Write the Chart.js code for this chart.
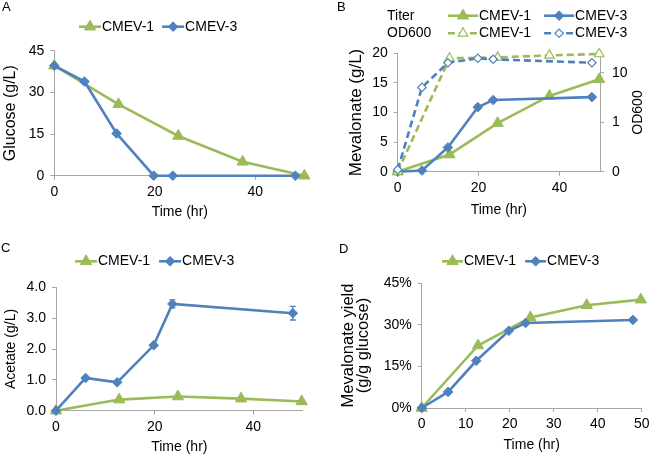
<!DOCTYPE html>
<html>
<head>
<meta charset="utf-8">
<script src="https://cdn.jsdelivr.net/npm/chart.js@4/dist/chart.umd.min.js"></script>
<style>
  html, body { margin: 0; padding: 0; background: #fff; }
  #wrap { position: relative; width: 650px; height: 457px; background: #fff; }
  .panel { position: absolute; width: 325px; height: 228px; }
</style>
</head>
<body>
<div id="wrap">
  <div class="panel" style="left:0;top:0"><canvas id="cA"></canvas></div>
  <div class="panel" style="left:325px;top:0"><canvas id="cB"></canvas></div>
  <div class="panel" style="left:0;top:228px"><canvas id="cC"></canvas></div>
  <div class="panel" style="left:325px;top:228px"><canvas id="cD"></canvas></div>
</div>
<script>
// ---------------- data ----------------
const strains = ['CMEV-1', 'CMEV-3'];
const timeCMEV1 = [0, 12.8, 24.7, 37.5, 49.8];
const timeCMEV3 = [0, 6, 12.4, 19.8, 23.6, 48];

const glucoseCMEV1 = [39.6, 25.7, 14.3, 5.0, 0];
const glucoseCMEV3 = [39.6, 33.9, 15.2, 0, 0, 0];

const mevalonateCMEV1 = [0, 2.9, 8.2, 12.8, 15.6];
const mevalonateCMEV3 = [0, 0.2, 4.1, 10.9, 12.1, 12.6];
const od600CMEV1 = [0.1, 19.8, 20.7, 22.7, 24.2];
const od600CMEV3 = [0.11, 5.1, 16.1, 19.8, 18.9, 16.1];

const acetateCMEV1 = [0, 0.36, 0.46, 0.39, 0.30];
const acetateCMEV3 = [0, 1.06, 0.92, 2.12, 3.46, 3.16];
const acetateCMEV3Err = [0, 0, 0, 0, 0.13, 0.22];

const yieldCMEV1 = [0, 22.5, 32.6, 37.0, 39.0];
const yieldCMEV3 = [0, 5.8, 17.0, 27.8, 30.6, 31.7];

const odTickValues = [0.1, 1, 10];
const odTickLabels = ['0', '1', '10'];

// ---------------- styling ----------------
const GREEN = '#9BBB59';
const BLUE = '#4F81BD';
const AXIS = '#A6A6A6';
const FONT = '"Liberation Sans", Arial, Helvetica, sans-serif';
Chart.defaults.font.family = FONT;
Chart.defaults.font.size = 14;
Chart.defaults.color = '#000';
Chart.defaults.animation = false;

function pts(xs, ys) { return xs.map((x, i) => ({ x: x, y: ys[i] })); }

function solid(label, xs, ys, color, style, order) {
  return {
    label: label, data: pts(xs, ys), borderColor: color, backgroundColor: color,
    borderWidth: 2.6, pointStyle: style, pointRadius: style === 'triangle' ? 6.5 : 4.8,
    pointBackgroundColor: color, pointBorderColor: color, pointBorderWidth: 1,
    tension: 0, clip: false, order: order, fill: false
  };
}
function dashed(label, xs, ys, color, style, order, axis) {
  return {
    label: label, data: pts(xs, ys), borderColor: color, backgroundColor: '#fff',
    borderWidth: 2.6, borderDash: [7, 4], pointStyle: style,
    pointRadius: style === 'triangle' ? 5.5 : 4.2,
    pointBackgroundColor: '#fff', pointBorderColor: color, pointBorderWidth: 1.2,
    tension: 0, clip: false, order: order, fill: false, yAxisID: axis
  };
}

function drawMarker(ctx, style, x, y, r) {
  ctx.beginPath();
  if (style === 'triangle') {
    for (let k = 0; k < 3; k++) {
      const a = k * 2 * Math.PI / 3;
      const px = x + Math.sin(a) * r, py = y - Math.cos(a) * r;
      if (k === 0) ctx.moveTo(px, py); else ctx.lineTo(px, py);
    }
  } else {
    ctx.moveTo(x, y - r); ctx.lineTo(x + r, y); ctx.lineTo(x, y + r); ctx.lineTo(x - r, y);
  }
  ctx.closePath();
  ctx.fill();
  ctx.stroke();
}

const decoPlugin = {
  id: 'deco',
  afterDraw(chart, args, o) {
    const ctx = chart.ctx;
    ctx.save();
    ctx.fillStyle = '#000';
    ctx.textAlign = 'left';
    ctx.textBaseline = 'middle';
    if (o.letter) {
      ctx.font = '13px ' + FONT;
      ctx.fillText(o.letter.text, o.letter.x, o.letter.y);
    }
    ctx.font = '14px ' + FONT;
    (o.rows || []).forEach(row => {
      let x = row.x;
      if (row.prefix) { ctx.fillStyle = '#000'; ctx.fillText(row.prefix, row.prefixX, row.y); }
      row.datasets.forEach(di => {
        const ds = chart.data.datasets[di];
        ctx.save();
        ctx.strokeStyle = ds.borderColor;
        ctx.lineWidth = ds.borderWidth;
        ctx.setLineDash(ds.borderDash || []);
        ctx.beginPath(); ctx.moveTo(x, row.y); ctx.lineTo(x + o.swatch, row.y); ctx.stroke();
        ctx.setLineDash([]);
        ctx.fillStyle = ds.pointBackgroundColor;
        ctx.strokeStyle = ds.pointBorderColor;
        ctx.lineWidth = ds.pointBorderWidth;
        drawMarker(ctx, ds.pointStyle, x + o.swatch / 2, row.y, ds.pointRadius);
        ctx.restore();
        ctx.fillStyle = '#000';
        ctx.fillText(ds.label, x + o.swatch + o.textGap, row.y);
        x += o.swatch + o.textGap + ctx.measureText(ds.label).width + o.itemGap;
      });
    });
    if (o.rightTitle) {
      const ca = chart.chartArea;
      ctx.save();
      ctx.translate(o.rightTitle.x, (ca.top + ca.bottom) / 2);
      ctx.rotate(-Math.PI / 2);
      ctx.textAlign = 'center';
      ctx.fillStyle = '#000';
      ctx.font = '14px ' + FONT;
      ctx.fillText(o.rightTitle.text, 0, 0);
      ctx.restore();
    }
    ctx.restore();
  },
  beforeDatasetsDraw(chart, args, o) {
    if (!o.errors) return;
    const ctx = chart.ctx;
    const xs = chart.scales.x, ys = chart.scales.y;
    o.errors.forEach(eb => {
      const ds = chart.data.datasets[eb.dataset];
      ctx.save();
      ctx.strokeStyle = ds.borderColor;
      ctx.lineWidth = 1.3;
      ds.data.forEach((p, i) => {
        const e = eb.values[i];
        if (!e) return;
        const px = xs.getPixelForValue(p.x);
        const y1 = ys.getPixelForValue(p.y + e), y2 = ys.getPixelForValue(p.y - e);
        ctx.beginPath();
        ctx.moveTo(px, y1); ctx.lineTo(px, y2);
        ctx.moveTo(px - 3, y1); ctx.lineTo(px + 3, y1);
        ctx.moveTo(px - 3, y2); ctx.lineTo(px + 3, y2);
        ctx.stroke();
      });
      ctx.restore();
    });
  }
};

function fixW(w) { return s => { s.width = w; s.paddingTop = 0; s.paddingBottom = 0; s.paddingLeft = 0; s.paddingRight = 0; }; }
function fixH(h) { return s => { s.height = h; s.paddingLeft = 0; s.paddingRight = 0; s.paddingTop = 0; s.paddingBottom = 0; }; }

function xAxis(max, step, h, keepEvery) {
  return {
    type: 'linear', min: 0, max: max,
    ticks: { stepSize: step, padding: 4, maxRotation: 0, autoSkip: false },
    afterBuildTicks: s => { s.ticks = s.ticks.filter(t => Math.abs(t.value / keepEvery - Math.round(t.value / keepEvery)) < 1e-9); },
    grid: { drawOnChartArea: false, drawTicks: true, tickLength: 4, color: AXIS },
    border: { display: true, color: AXIS, width: 1 },
    title: { display: true, text: 'Time (hr)', padding: { top: 0, bottom: 0 }, font: { size: 14 } },
    afterFit: fixH(h)
  };
}
function yAxis(min, max, step, w, title, tpad, tfont, fmt) {
  return {
    type: 'linear', position: 'left', min: min, max: max,
    ticks: { stepSize: step, padding: 6, callback: fmt },
    grid: { drawOnChartArea: false, drawTicks: true, tickLength: 4, color: AXIS },
    border: { display: true, color: AXIS, width: 1 },
    title: { display: true, text: title, padding: { top: tpad, bottom: 0 }, font: tfont },
    afterFit: fixW(w)
  };
}

function make(id, datasets, scales, padding, deco) {
  return new Chart(document.getElementById(id), {
    type: 'line',
    data: { datasets: datasets },
    options: {
      responsive: true, maintainAspectRatio: false, animation: false,
      layout: { padding: padding },
      scales: scales,
      plugins: { legend: { display: false }, tooltip: { enabled: false }, deco: deco }
    },
    plugins: [decoPlugin]
  });
}

// ---------------- Panel A ----------------
make('cA',
  [solid(strains[0], timeCMEV1, glucoseCMEV1, GREEN, 'triangle', 2),
   solid(strains[1], timeCMEV3, glucoseCMEV3, BLUE, 'rectRot', 1)],
  { x: xAxis(50, 20, 44.4, 20),
    y: yAxis(0, 45, 15, 54.3, 'Glucose (g/L)', 0.6, { size: 16 }) },
  { left: 0, right: 19.6, top: 50.7, bottom: 7.9 },
  { letter: { text: 'A', x: 2, y: 7.5 },
    swatch: 22, textGap: 1, itemGap: 8,
    rows: [{ x: 79, y: 26.7, datasets: [0, 1] }] });

// ---------------- Panel B ----------------
make('cB',
  [solid(strains[0], timeCMEV1, mevalonateCMEV1, GREEN, 'triangle', 4),
   solid(strains[1], timeCMEV3, mevalonateCMEV3, BLUE, 'rectRot', 3),
   dashed(strains[0], timeCMEV1, od600CMEV1, GREEN, 'triangle', 2, 'y2'),
   dashed(strains[1], timeCMEV3, od600CMEV3, BLUE, 'rectRot', 1, 'y2')],
  { x: xAxis(50, 20, 46.7, 20),
    y: yAxis(0, 20, 5, 51.7, 'Mevalonate (g/L)', 0.5, { size: 17 }),
    y2: {
      type: 'logarithmic', position: 'right', min: 0.1, max: 25,
      afterBuildTicks: s => { s.ticks = odTickValues.map(v => ({ value: v })); },
      ticks: { padding: 8, autoSkip: false,
               callback: v => { const i = odTickValues.findIndex(t => Math.abs(t - v) < 1e-9); return i >= 0 ? odTickLabels[i] : ''; } },
      grid: { drawOnChartArea: false, drawTicks: true, tickLength: 4, color: AXIS },
      border: { display: true, color: AXIS, width: 1 },
      afterFit: fixW(40)
    } },
  { left: 21, right: 10, top: 53.3, bottom: 9.6 },
  { letter: { text: 'B', x: 12, y: 7.5 },
    swatch: 30, textGap: 1, itemGap: 13,
    rows: [{ prefix: 'Titer', prefixX: 62, x: 123, y: 15.7, datasets: [0, 1] },
           { prefix: 'OD600', prefixX: 62, x: 123, y: 33.3, datasets: [2, 3] }],
    rightTitle: { text: 'OD600', x: 313 } });

// ---------------- Panel C ----------------
make('cC',
  [solid(strains[0], timeCMEV1, acetateCMEV1, GREEN, 'triangle', 2),
   solid(strains[1], timeCMEV3, acetateCMEV3, BLUE, 'rectRot', 1)],
  { x: xAxis(50, 20, 45.3, 20),
    y: yAxis(0, 4, 1, 54, 'Acetate (g/L)', 1, { size: 14 }, v => v.toFixed(1)) },
  { left: 2, right: 22.3, top: 59.3, bottom: 0 },
  { letter: { text: 'C', x: 1, y: 20 },
    swatch: 22, textGap: 1, itemGap: 9,
    rows: [{ x: 75, y: 33.3, datasets: [0, 1] }],
    errors: [{ dataset: 1, values: acetateCMEV3Err }] });

// ---------------- Panel D ----------------
make('cD',
  [solid(strains[0], timeCMEV1, yieldCMEV1, GREEN, 'triangle', 2),
   solid(strains[1], timeCMEV3, yieldCMEV3, BLUE, 'rectRot', 1)],
  { x: xAxis(50, 10, 45.1, 10),
    y: yAxis(0, 45, 15, 82.7, ['Mevalonate yield', '(g/g glucose)'], 1.5, { size: 16.5, lineHeight: '15px' }, v => v + '%') },
  { left: 14, right: 8.3, top: 55, bottom: 2.9 },
  { letter: { text: 'D', x: 14, y: 21.5 },
    swatch: 21, textGap: 1, itemGap: 9,
    rows: [{ x: 117, y: 33.3, datasets: [0, 1] }] });
</script>
</body>
</html>
